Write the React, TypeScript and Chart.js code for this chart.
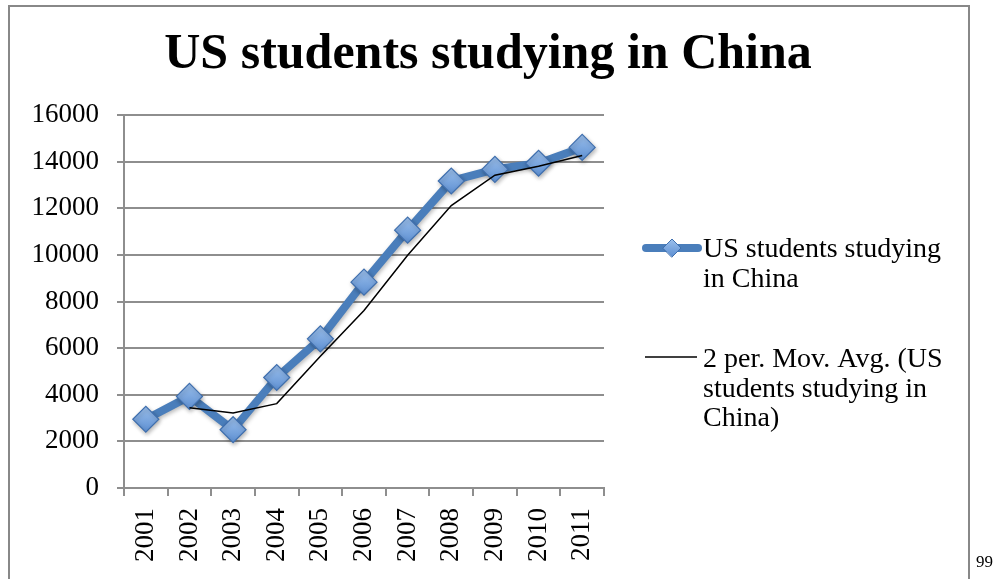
import React, { useEffect, useRef } from 'react';
import { Chart, registerables } from 'chart.js';

Chart.register(...registerables);

// ---- data ----
const YEARS = ['2001', '2002', '2003', '2004', '2005', '2006', '2007', '2008', '2009', '2010', '2011'];
const STUDENTS = [2950, 3930, 2500, 4740, 6400, 8830, 11060, 13170, 13670, 13930, 14610];
const MOV_AVG = [null, 3440, 3215, 3620, 5650, 7615, 9980, 12115, 13420, 13800, 14260];
const Y_MIN = 0;
const Y_MAX = 16000;
const Y_STEP = 2000;
const TITLE = 'US students studying in China';
const SERIES_NAME = 'US students studying in China';
const TREND_NAME = '2 per. Mov. Avg. (US students studying in China)';
const LEGEND_SERIES_LINES = ['US students studying', 'in China'];
const LEGEND_TREND_LINES = ['2 per. Mov. Avg. (US', 'students studying in', 'China)'];
const PAGE_NUMBER = '99';

// ---- styles ----
const BLUE = '#4a7ebb';
const MARKER_EDGE = '#3f6fae';
const GRID = '#8e8e8e';
const FONT = '"Liberation Serif", "Times New Roman", serif';

function diamond(ctx: CanvasRenderingContext2D, x: number, y: number, r: number) {
  ctx.beginPath();
  ctx.moveTo(x - r, y);
  ctx.lineTo(x, y - r);
  ctx.lineTo(x + r, y);
  ctx.lineTo(x, y + r);
  ctx.closePath();
}

const sideLegend = {
  id: 'sideLegend',
  afterDraw(chart: any) {
    const ctx: CanvasRenderingContext2D = chart.ctx;
    const x0 = chart.chartArea.right + 38;
    const textX = chart.chartArea.right + 99;
    ctx.save();
    // series marker
    ctx.strokeStyle = BLUE;
    ctx.lineWidth = 8;
    ctx.lineCap = 'round';
    ctx.beginPath();
    ctx.moveTo(x0 + 4, 248);
    ctx.lineTo(x0 + 56, 248);
    ctx.stroke();
    const g = ctx.createLinearGradient(0, 239, 0, 257);
    g.addColorStop(0, '#9cc0ec');
    g.addColorStop(1, '#5d8fd2');
    ctx.fillStyle = g;
    diamond(ctx, x0 + 30, 248, 9);
    ctx.fill();
    ctx.lineWidth = 1;
    ctx.strokeStyle = MARKER_EDGE;
    ctx.stroke();
    // trend marker
    ctx.strokeStyle = '#000';
    ctx.lineWidth = 1.5;
    ctx.lineCap = 'butt';
    ctx.beginPath();
    ctx.moveTo(x0 + 3, 357);
    ctx.lineTo(x0 + 55, 357);
    ctx.stroke();
    // text
    ctx.fillStyle = '#000';
    ctx.font = '28px ' + FONT;
    ctx.textBaseline = 'alphabetic';
    ctx.textAlign = 'left';
    LEGEND_SERIES_LINES.forEach((t, i) => ctx.fillText(t, textX, 257 + i * 30));
    LEGEND_TREND_LINES.forEach((t, i) => ctx.fillText(t, textX, 367 + i * 29.5));
    ctx.restore();
  },
};

const markerShadow = {
  id: 'markerShadow',
  beforeDatasetDraw(chart: any, args: any) {
    if (args.index !== 0) return;
    const ctx = chart.ctx;
    ctx.save();
    ctx.shadowColor = 'rgba(0,0,0,0.28)';
    ctx.shadowBlur = 4;
    ctx.shadowOffsetX = 1;
    ctx.shadowOffsetY = 2;
  },
  afterDatasetDraw(chart: any, args: any) {
    if (args.index !== 0) return;
    chart.ctx.restore();
  },
};

export default function App() {
  const ref = useRef<HTMLCanvasElement>(null);

  useEffect(() => {
    document.body.style.margin = '0';
    const canvas = ref.current!;
    const chart = new Chart(canvas, {
      type: 'line',
      data: {
        labels: YEARS,
        datasets: [
          {
            label: SERIES_NAME,
            data: STUDENTS,
            borderColor: BLUE,
            borderWidth: 8,
            borderJoinStyle: 'round',
            borderCapStyle: 'round',
            tension: 0,
            pointStyle: 'rectRot',
            pointRadius: 13,
            pointBorderWidth: 1.2,
            pointBorderColor: MARKER_EDGE,
            pointBackgroundColor: (c: any) => {
              const ch = c.chart;
              const ys = ch.scales && ch.scales.y;
              if (!ys || !c.parsed) return '#70a0de';
              const py = ys.getPixelForValue(c.parsed.y);
              if (!isFinite(py)) return '#70a0de';
              const gr = ch.ctx.createLinearGradient(0, py - 13, 0, py + 13);
              gr.addColorStop(0, '#9cc0ec');
              gr.addColorStop(1, '#5d8fd2');
              return gr;
            },
            order: 1,
          },
          {
            label: TREND_NAME,
            data: MOV_AVG as any,
            borderColor: '#000',
            borderWidth: 1.5,
            pointRadius: 0,
            tension: 0,
            order: 0,
          },
        ],
      },
      options: {
        responsive: false,
        animation: false,
        events: [],
        layout: { padding: { left: 10, right: 28, top: 0, bottom: 0 } },
        plugins: {
          legend: { display: false },
          tooltip: { enabled: false },
          title: {
            display: true,
            text: TITLE,
            color: '#000',
            font: { family: FONT, size: 50, weight: 'bold', lineHeight: 1.2 },
            padding: { top: 25, bottom: 30 },
          },
        },
        scales: {
          x: {
            offset: true,
            grid: {
              display: true,
              drawOnChartArea: false,
              drawTicks: true,
              tickLength: 8,
              offset: true,
              color: GRID,
              lineWidth: 2,
            },
            border: { display: true, color: GRID, width: 2 },
            ticks: {
              autoSkip: false,
              minRotation: 90,
              maxRotation: 90,
              padding: 12,
              color: '#000',
              font: { family: FONT, size: 27 },
            },
            afterFit: (s: any) => {
              s.height = 91;
            },
          },
          y: {
            min: Y_MIN,
            max: Y_MAX,
            ticks: {
              stepSize: Y_STEP,
              padding: 18,
              color: '#000',
              font: { family: FONT, size: 27 },
              callback: (v: any) => String(v),
            },
            grid: { color: GRID, lineWidth: 2, tickLength: 7, drawTicks: true },
            border: { display: true, color: GRID, width: 2 },
            afterFit: (s: any) => {
              s.width = 114;
            },
          },
          legendSpace: {
            type: 'linear',
            axis: 'y',
            position: 'right',
            display: true,
            grid: { display: false },
            border: { display: false },
            ticks: { display: false },
            afterFit: (s: any) => {
              s.width = 362;
            },
          },
        } as any,
      },
      plugins: [sideLegend, markerShadow],
    } as any);
    return () => chart.destroy();
  }, []);

  return (
    <div style={{ position: 'relative', width: 994, height: 579, overflow: 'hidden', background: '#fff' }}>
      <div
        style={{
          position: 'absolute',
          left: 8,
          top: 5,
          width: 962,
          height: 700,
          border: '2px solid #888',
          boxSizing: 'border-box',
        }}
      />
      <canvas ref={ref} width={994} height={579} style={{ position: 'absolute', left: 0, top: 0 }} />
      <span
        style={{
          position: 'absolute',
          left: 976,
          top: 553,
          fontFamily: FONT,
          fontSize: 17,
          lineHeight: '17px',
          whiteSpace: 'nowrap',
        }}
      >
        {PAGE_NUMBER}
      </span>
    </div>
  );
}
